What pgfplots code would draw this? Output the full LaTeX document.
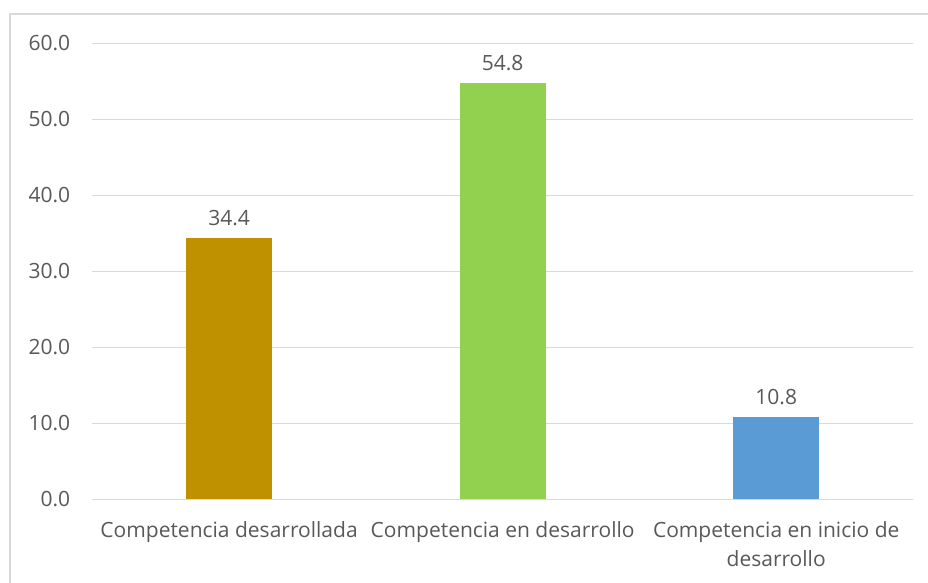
\documentclass[border=0pt]{standalone}
\usepackage{pgfplots}
\pgfplotsset{compat=1.18}
\usepackage{fontspec}
\setmainfont{Open Sans}
\definecolor{bargold}{HTML}{BF9000}
\definecolor{bargreen}{HTML}{92D050}
\definecolor{barblue}{HTML}{5B9BD5}
\definecolor{txtgray}{HTML}{595959}
\definecolor{gridgray}{HTML}{D9D9D9}
\begin{document}
\begin{tikzpicture}
\useasboundingbox (-46.15pt,-41.85pt) rectangle (417.85pt,249.65pt);
\clip (-46.15pt,-41.85pt) rectangle (417.85pt,249.65pt);
\fill[white] (-46.15pt,-41.85pt) rectangle (417.85pt,249.65pt);
\draw[gridgray, line width=0.8pt] (-41.15pt,-60pt) -- (-41.15pt,242.65pt) -- (440pt,242.65pt);
\begin{axis}[
  at={(0,0)}, anchor=south west,
  scale only axis,
  width=410.35pt, height=228pt,
  xmin=-0.5, xmax=2.5, ymin=0, ymax=60,
  axis line style={draw=none},
  axis x line*=bottom,
  ytick={0,10,...,60},
  ymajorgrids,
  grid style={gridgray, line width=0.75pt},
  major tick length=0pt,
  xtick={0,1,2},
  xticklabels={Competencia desarrollada, Competencia en desarrollo, {Competencia en inicio de\\desarrollo}},
  tick label style={font=\fontsize{10.5}{14.5}\selectfont, text=txtgray},
  xticklabel style={align=center, yshift=-7.5pt},
  yticklabel style={xshift=-7.5pt},
  /pgf/number format/.cd, fixed, fixed zerofill, precision=1, assume math mode=true,
  /pgfplots/.cd,
  ybar, bar width=0.315, bar shift=0pt,
  nodes near coords,
  nodes near coords style={font=\fontsize{10.5}{14}\selectfont, text=txtgray, yshift=2.5pt,
    /pgf/number format/.cd, fixed, fixed zerofill, precision=1, assume math mode=true},
  clip=false,
]
\addplot[fill=bargold, draw=none] coordinates {(0,34.4)};
\addplot[fill=bargreen, draw=none] coordinates {(1,54.8)};
\addplot[fill=barblue, draw=none] coordinates {(2,10.8)};
\end{axis}
\end{tikzpicture}
\end{document}
